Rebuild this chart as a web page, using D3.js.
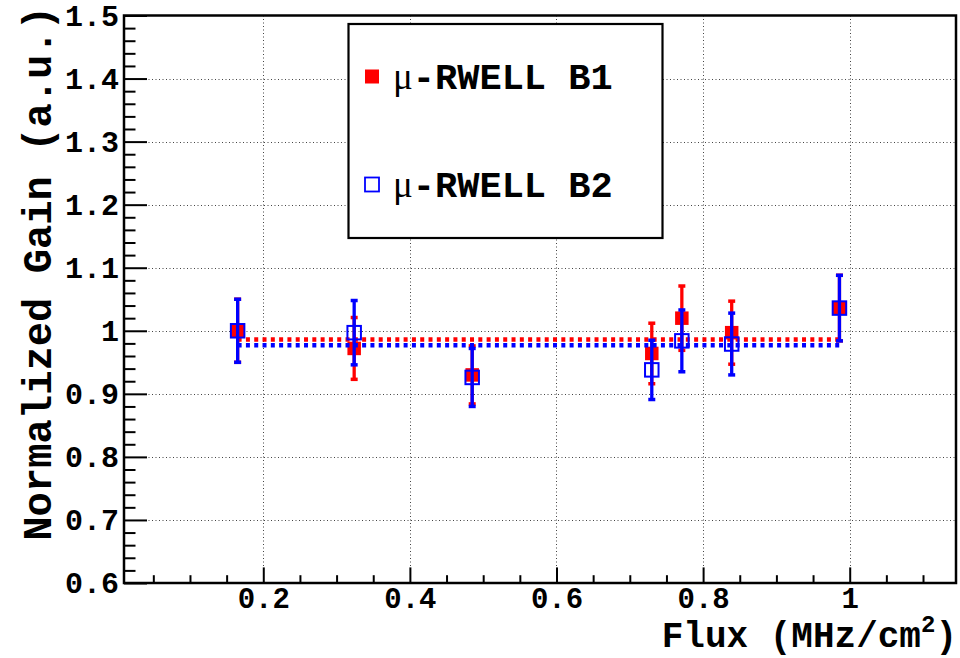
<!DOCTYPE html>
<html><head><meta charset="utf-8">
<script src="https://cdn.jsdelivr.net/npm/d3@7"></script>
<style>body{margin:0;background:#fff}svg{display:block}</style>
</head><body>
<svg id="c" width="960" height="658"></svg>
<script>
// ---- data ----
const flux   = [0.165, 0.324, 0.485, 0.730, 0.771, 0.839, 0.986];
const gainB1 = [1.000, 0.972, 0.930, 0.964, 1.020, 0.997, 1.036];
const errB1  = [0.050, 0.049, 0.046, 0.048, 0.051, 0.050, 0.052];
const gainB2 = [1.000, 0.997, 0.926, 0.938, 0.984, 0.979, 1.036];
const errB2  = [0.050, 0.051, 0.046, 0.047, 0.049, 0.049, 0.052];
const fitB1 = 0.986;
const fitB2 = 0.977;
const fitRange = [0.165, 0.986];
const seriesNames = ["RWELL B1", "RWELL B2"];
const xTicks = [0.2, 0.4, 0.6, 0.8, 1.0];
const xTickLabels = ["0.2", "0.4", "0.6", "0.8", "1"];
const yTicks = [0.6, 0.7, 0.8, 0.9, 1.0, 1.1, 1.2, 1.3, 1.4, 1.5];
const yTickLabels = ["0.6", "0.7", "0.8", "0.9", "1", "1.1", "1.2", "1.3", "1.4", "1.5"];
const xTitle = "Flux (MHz/cm";
const yTitle = "Normalized Gain (a.u.)";

// ---- layout ----
const L = 124, R = 956, T = 15.5, B = 583;
const svg = d3.select("#c");
const x = d3.scaleLinear().domain([0.01, 1.145]).range([L, R]);
const y = d3.scaleLinear().domain([0.6, 1.5]).range([B, T]);
const MONO = "'Liberation Mono', 'Courier New', monospace";
const SERIF = "'Liberation Serif', 'Times New Roman', serif";

// grid
const grid = svg.append("g").attr("stroke", "#444").attr("stroke-width", 1).attr("stroke-dasharray", "1,2.5");
grid.selectAll("line.gx").data(xTicks).join("line").attr("class", "gx")
  .attr("x1", d => Math.round(x(d)) + 0.5).attr("x2", d => Math.round(x(d)) + 0.5).attr("y1", T).attr("y2", B);
grid.selectAll("line.gy").data(yTicks.slice(1, -1)).join("line").attr("class", "gy")
  .attr("y1", d => Math.round(y(d)) + 0.5).attr("y2", d => Math.round(y(d)) + 0.5).attr("x1", L).attr("x2", R);

// axes
const minorX = d3.range(0.05, 1.13, 0.05).filter(v => Math.abs(v / 0.2 - Math.round(v / 0.2)) > 1e-6);
const minorY = d3.range(0.62, 1.5, 0.02).filter(v => Math.abs(v * 10 - Math.round(v * 10)) > 1e-6);

function styleAxis(g, fs) {
  g.selectAll(".tick line").attr("stroke", "#000").attr("stroke-width", 2);
  g.selectAll("text").attr("fill", "#000").style("font-family", MONO).style("font-weight", "bold").style("font-size", fs + "px");
}
const gxm = svg.append("g").attr("transform", `translate(0,${B})`)
  .call(d3.axisBottom(x).tickValues(minorX).tickFormat("").tickSizeInner(-7.8).tickSizeOuter(0));
gxm.select(".domain").remove(); styleAxis(gxm, 29);
const gym = svg.append("g").attr("transform", `translate(${L},0)`)
  .call(d3.axisLeft(y).tickValues(minorY).tickFormat("").tickSizeInner(-11.5).tickSizeOuter(0));
gym.select(".domain").remove(); styleAxis(gym, 30);

const gx = svg.append("g").attr("transform", `translate(0,${B})`)
  .call(d3.axisBottom(x).tickValues(xTicks).tickFormat((d, i) => xTickLabels[i]).tickSizeInner(-15.6).tickSizeOuter(0).tickPadding(4.5));
gx.select(".domain").remove(); styleAxis(gx, 29);
const gy = svg.append("g").attr("transform", `translate(${L},0)`)
  .call(d3.axisLeft(y).tickValues(yTicks).tickFormat((d, i) => yTickLabels[i]).tickSizeInner(-23).tickSizeOuter(0).tickPadding(5));
gy.select(".domain").remove(); styleAxis(gy, 30);

// frame
svg.append("rect").attr("x", L).attr("y", T).attr("width", R - L).attr("height", B - T)
  .attr("fill", "none").attr("stroke", "#000").attr("stroke-width", 2.5);

// series
function drawSeries(vals, errs, fit, color, filled) {
  const g = svg.append("g");
  const idx = d3.range(vals.length);
  // fit line
  g.append("line").attr("x1", x(fitRange[0])).attr("x2", x(fitRange[1]) + 3)
    .attr("y1", y(fit)).attr("y2", y(fit)).attr("stroke", color).attr("stroke-width", 4.5)
    .attr("stroke-dasharray", "4,4.3");
  // error bars
  g.selectAll("line.eb").data(idx).join("line").attr("class", "eb")
    .attr("x1", i => x(flux[i])).attr("x2", i => x(flux[i]))
    .attr("y1", i => y(vals[i] + errs[i])).attr("y2", i => y(vals[i] - errs[i]))
    .attr("stroke", color).attr("stroke-width", 3.3);
  ["+", "-"].forEach(s => {
    g.selectAll("line.cap" + (s === "+" ? "t" : "b")).data(idx).join("line").attr("class", "cap" + (s === "+" ? "t" : "b"))
      .attr("x1", i => x(flux[i]) - 3.5).attr("x2", i => x(flux[i]) + 3.5)
      .attr("y1", i => y(s === "+" ? vals[i] + errs[i] : vals[i] - errs[i]))
      .attr("y2", i => y(s === "+" ? vals[i] + errs[i] : vals[i] - errs[i]))
      .attr("stroke", color).attr("stroke-width", 3.5);
  });
  // markers
  const sz = 13.5;
  g.selectAll("rect.mk").data(idx).join("rect").attr("class", "mk")
    .attr("x", i => x(flux[i]) - sz / 2).attr("y", i => y(vals[i]) - sz / 2)
    .attr("width", sz).attr("height", sz)
    .attr("fill", filled ? color : "none").attr("stroke", filled ? "none" : color).attr("stroke-width", 2);
}
drawSeries(gainB1, errB1, fitB1, "#ff0000", true);
drawSeries(gainB2, errB2, fitB2, "#0000ff", false);

// axis titles
svg.append("text").attr("x", 957).attr("y", 647).attr("text-anchor", "end")
  .style("font-family", MONO).style("font-weight", "bold").style("font-size", "36px")
  .call(t => {
    t.append("tspan").text(xTitle);
    t.append("tspan").attr("dy", -15).style("font-size", "24px").text("2");
    t.append("tspan").attr("dy", 15).text(")");
  });
svg.append("text").attr("transform", "translate(51,6) rotate(-90)").attr("text-anchor", "end")
  .style("font-family", MONO).style("font-weight", "bold").style("font-size", "40.5px")
  .text(yTitle);

// legend
const lg = svg.append("g");
lg.append("rect").attr("x", 348.5).attr("y", 24).attr("width", 314).attr("height", 214)
  .attr("fill", "#fff").attr("stroke", "#000").attr("stroke-width", 2.2);
const legRows = [{name: seriesNames[0], color: "#ff0000", filled: true, y: 76.5},
                 {name: seriesNames[1], color: "#0000ff", filled: false, y: 184.5}];
legRows.forEach(r => {
  lg.append("rect").attr("x", 372 - 7).attr("y", r.y - 7).attr("width", 14).attr("height", 14)
    .attr("fill", r.filled ? r.color : "none").attr("stroke", r.filled ? "none" : r.color).attr("stroke-width", 1.8);
  const t = lg.append("text").attr("x", 393).attr("y", r.y + 12).style("font-size", "37px");
  t.append("tspan").style("font-family", SERIF).text("μ");
  t.append("tspan").style("font-family", MONO).style("font-weight", "bold").text("-" + r.name);
});
</script>
</body></html>
